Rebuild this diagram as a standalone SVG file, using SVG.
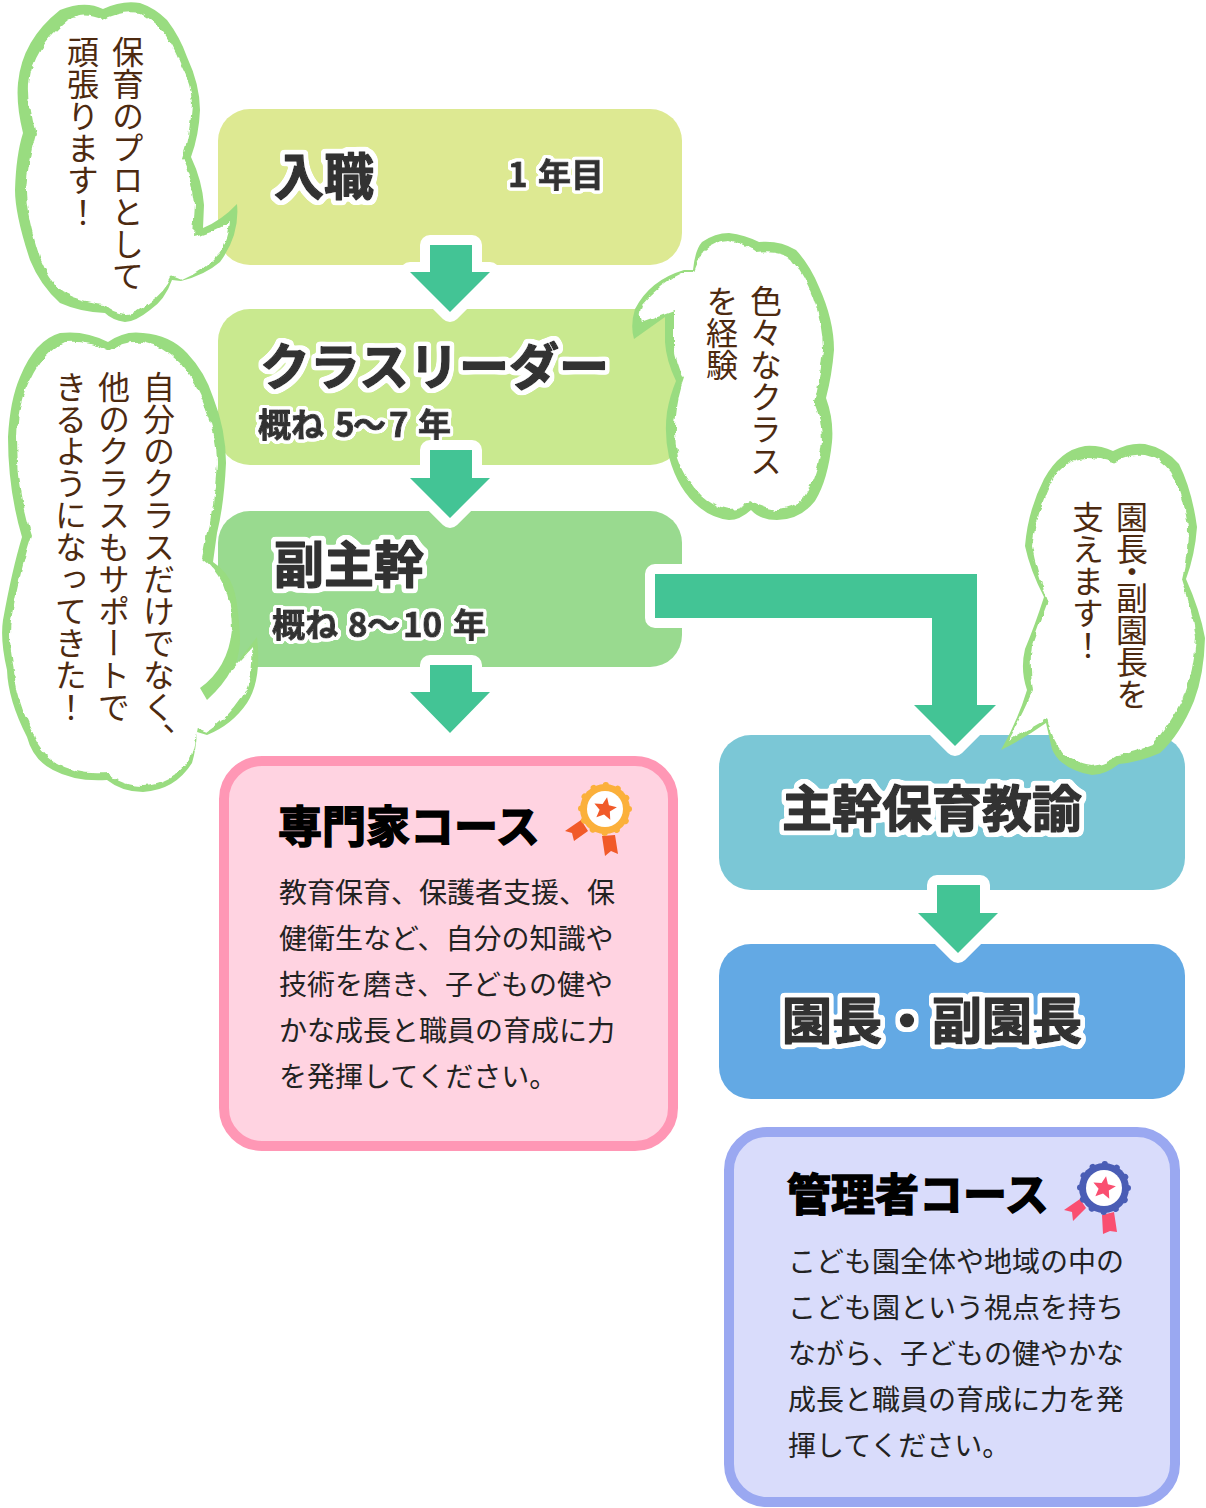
<svg xmlns="http://www.w3.org/2000/svg" width="1206" height="1508" viewBox="0 0 1206 1508">
<style>
text{font-family:"Noto Sans CJK JP","Noto Sans",sans-serif}
.v{writing-mode:vertical-rl;font-size:32px;fill:#4d2a10;font-weight:400}
.t{font-size:50px;font-weight:700;fill:#333;stroke:#333;stroke-width:1.5;stroke-linejoin:round;filter:url(#halo)}
.s{font-size:33px;font-weight:700;fill:#333;stroke:#333;stroke-width:1;stroke-linejoin:round;filter:url(#halos)}
.h{font-size:44px;font-weight:700;fill:#000;stroke:#000;stroke-width:1.6}
.b{font-size:28px;fill:#222}
.bo{fill:#99dc80}.bi{fill:#fff;filter:url(#rough)}
.ar{fill:#43c495;stroke:#fff;stroke-width:20;stroke-linejoin:round;paint-order:stroke}
</style>
<defs>
<filter id="halo" x="-10%" y="-25%" width="120%" height="150%">
<feMorphology in="SourceAlpha" operator="dilate" radius="2.5"/>
<feGaussianBlur stdDeviation="1.5"/>
<feComponentTransfer result="b"><feFuncA type="linear" slope="8" intercept="-0.8"/></feComponentTransfer>
<feFlood flood-color="#fff"/><feComposite in2="b" operator="in" result="w"/>
<feMerge><feMergeNode in="w"/><feMergeNode in="SourceGraphic"/></feMerge>
</filter>
<filter id="halos" x="-10%" y="-25%" width="120%" height="150%">
<feMorphology in="SourceAlpha" operator="dilate" radius="2"/>
<feGaussianBlur stdDeviation="1.2"/>
<feComponentTransfer result="b"><feFuncA type="linear" slope="8" intercept="-0.8"/></feComponentTransfer>
<feFlood flood-color="#fff"/><feComposite in2="b" operator="in" result="w"/>
<feMerge><feMergeNode in="w"/><feMergeNode in="SourceGraphic"/></feMerge>
</filter>
<filter id="rough" x="-5%" y="-5%" width="110%" height="110%">
<feTurbulence type="fractalNoise" baseFrequency="0.09" numOctaves="3" seed="4" result="n"/>
<feDisplacementMap in="SourceGraphic" in2="n" scale="6" xChannelSelector="R" yChannelSelector="G"/>
</filter>
</defs>

<g id="node-entry"><rect x="218" y="109" width="464" height="156" rx="32" fill="#dde992"/>
<text class="t" x="274" y="195">入職</text>
<text class="s" x="508" y="187">1<tspan x="538">年目</tspan></text></g>
<g id="node-leader"><rect x="218" y="309" width="464" height="156" rx="32" fill="#c9e98f"/>
<text class="t" x="260" y="385">クラスリーダー</text>
<text class="s" x="258" y="437">概ね<tspan x="335">5</tspan><tspan x="353">～</tspan><tspan x="389">7</tspan><tspan x="418">年</tspan></text></g>
<g id="node-sub"><rect x="218" y="511" width="464" height="156" rx="32" fill="#99da8f"/>
<text class="t" x="274" y="583">副主幹</text>
<text class="s" x="272" y="637">概ね<tspan x="348">8</tspan><tspan x="367">～</tspan><tspan x="403">10</tspan><tspan x="453">年</tspan></text></g>
<g id="node-chief"><rect x="719" y="735" width="466" height="155" rx="32" fill="#7bc7d6"/>
<text class="t" x="782" y="827">主幹保育教諭</text></g>
<g id="node-head"><rect x="719" y="944" width="466" height="155" rx="32" fill="#63a9e4"/>
<text class="t" x="782" y="1039">園長・副園長</text></g>

<g id="connectors">
<path class="ar" d="M430 245H472V272H490L450 312 410 272H430Z"/>
<path class="ar" d="M430 450H472V478H490L450 518 410 478H430Z"/>
<path class="ar" d="M430 665H472V692H490L450 733 410 692H430Z"/>
<path class="ar" d="M655 574H977V705H996L955 746 914 705H932V618H655Z"/>
<path class="ar" d="M937 885H980V913H998L958 953 918 913H937Z"/>
</g>

<g id="node-pro"><rect x="224" y="761" width="449" height="385" rx="38" fill="#ffd3e1" stroke="#ff97b5" stroke-width="10"/>
<text class="h" x="278" y="843">専門家コース</text>
<g id="badge-pro" transform="translate(605 809)">
<path d="M-17 22-24 11-40 22-33 24-31 32ZM-3 27 10 26 13 45 6 42 0 47Z" fill="#f15a29"/>
<circle r="25" fill="#fbb03b"/><circle r="24" fill="none" stroke="#fbb03b" stroke-width="6" stroke-dasharray="0.1 12.47" stroke-linecap="round"/>
<circle r="18" fill="#fff"/>
<path transform="rotate(10)" d="M0-12 3.200-4.400 11.400-3.700 5.200 1.700 7.050 9.700 0 5.500-7.050 9.700-5.200 1.700-11.400-3.700-3.200-4.400Z" fill="#f15a29"/></g>
<text class="b"><tspan x="279" y="903">教育保育、保護者支援、保</tspan><tspan x="279" y="949">健衛生など、自分の知識や</tspan><tspan x="279" y="995">技術を磨き、子どもの健や</tspan><tspan x="279" y="1041">かな成長と職員の育成に力</tspan><tspan x="279" y="1087">を発揮してください。</tspan></text></g>

<g id="node-mgr"><rect x="729" y="1132" width="446" height="370" rx="38" fill="#d9dcfb" stroke="#9aa8f1" stroke-width="10"/>
<text class="h" x="787" y="1211">管理者コース</text>
<g id="badge-mgr" transform="translate(1104 1188)">
<path d="M-18 20-24 11-40 22-32 24-31 33ZM-2 27 10 24 13 44 6 43-1 46Z" fill="#fa4f70"/>
<circle r="25" fill="#4a5db5"/><circle r="24" fill="none" stroke="#4a5db5" stroke-width="6" stroke-dasharray="0.1 12.47" stroke-linecap="round"/>
<circle r="18" fill="#fff"/>
<path transform="rotate(10)" d="M0-12 3.200-4.400 11.400-3.700 5.200 1.700 7.050 9.700 0 5.500-7.050 9.700-5.200 1.700-11.400-3.700-3.200-4.400Z" fill="#fa4f70"/></g>
<text class="b"><tspan x="788" y="1272">こども園全体や地域の中の</tspan><tspan x="788" y="1318">こども園という視点を持ち</tspan><tspan x="788" y="1364">ながら、子どもの健やかな</tspan><tspan x="788" y="1410">成長と職員の育成に力を発</tspan><tspan x="788" y="1456">揮してください。</tspan></text></g>

<g id="bubble-1">
<path class="bo" d="M103 9Q122 0 140 3Q155 8 167 20Q180 37 187 57Q200 85 200 110Q199 135 191 157Q202 180 204 205L203 228Q222 220 237 204Q240 235 220 262Q205 275 181 281L172 280Q165 300 150 310Q135 322 125 322Q112 320 105 313Q80 312 60 303Q40 285 30 260Q15 215 15 190Q16 155 23 133Q16 105 18 83Q22 40 60 10Q85 0 103 9Z"/>
<path class="bi" d="M103 20Q122 10 140 13Q150 18 163 32Q173 45 180 63Q192 85 192 105Q190 135 182 158Q192 180 195 203L193 237Q215 233 230 222Q228 240 220 253Q205 270 182 280L172 276Q165 292 150 302Q135 315 125 314Q112 312 105 304Q80 302 62 292Q48 278 40 258Q26 215 26 190Q28 160 36 133Q28 105 29 83Q33 48 68 20Q85 11 103 20Z"/>
<text class="v" x="128" y="36">保育のプロとして</text>
<text class="v" x="83" y="36">頑張ります！</text></g>

<g id="bubble-2">
<path class="bo" d="M108 342Q125 330 143 333Q170 335 187 353Q205 372 213 397Q226 430 226 463Q224 505 217 533L213 562Q228 572 233 587Q238 600 240 637Q240 650 236 664L257 637Q262 680 247 703Q232 725 207 735L197 732Q196 750 192 763Q175 790 143 792Q122 792 107 780Q75 782 53 770Q33 760 27 737Q8 700 7 670Q0 640 3 620Q12 570 22 537Q8 490 8 437Q10 400 20 377Q35 340 60 333Q85 330 108 342Z"/>
<path class="bi" d="M108 351Q125 340 143 342Q163 346 180 363Q196 382 205 407Q217 435 217 463Q214 505 208 533L203 558Q216 568 223 583Q232 605 232 630Q232 650 230 672L252 648Q254 680 242 697Q228 718 207 732L197 728Q194 745 190 760Q172 785 143 786Q122 786 107 773Q75 775 57 763Q38 752 33 733Q16 700 14 670Q8 640 11 620Q20 570 32 535Q17 490 17 437Q18 400 30 380Q43 352 65 342Q88 340 108 351Z"/>
<path class="bo" d="M232 630L240 637Q240 670 207 700L200 688Q228 668 232 630Z"/>
<text class="v" x="159" y="371">自分のクラスだけでなく、</text>
<text class="v" x="114" y="371">他のクラスもサポートで</text>
<text class="v" x="71" y="371">きるようになってきた！</text></g>

<g id="bubble-3">
<path class="bo" d="M634 339Q630 325 635 309Q650 280 684 270L693 270Q695 250 702 242Q715 233 729 233Q745 235 759 242Q780 240 796 250Q810 265 819 287Q834 320 834 350Q832 375 826 398Q834 420 832 442Q828 480 815 501Q800 520 777 520Q760 520 751 510Q740 520 729 520Q712 518 699 507Q678 490 669 457Q664 435 667 412Q670 395 676 381Q666 360 665 342L665 317Z"/>
<path class="bi" d="M641 322Q638 315 642 305Q660 283 684 272L693 272Q698 258 704 250Q715 240 729 240Q745 244 757 253Q778 250 792 259Q805 275 813 298Q823 325 823 350Q820 380 814 401Q822 420 822 442Q818 475 804 497Q792 510 776 510Q762 508 751 501Q740 510 729 510Q715 508 702 496Q685 480 678 457Q673 435 676 416Q678 395 684 379Q676 362 674 346L674 310Z"/>
<text class="v" x="766" y="285">色々なクラス</text>
<text class="v" x="722" y="285">を経験</text></g>

<g id="bubble-4">
<path class="bo" d="M1001 750Q1018 720 1027 690Q1020 670 1025 649Q1035 625 1044 597Q1030 570 1025 546Q1028 510 1044 479Q1060 450 1085 446Q1100 445 1113 451Q1130 442 1145 444Q1165 448 1179 464Q1192 490 1197 527Q1195 555 1186 579Q1200 610 1205 638Q1204 675 1194 701Q1180 735 1160 753Q1140 762 1119 764Q1105 775 1092 775Q1072 772 1059 760Q1052 752 1051 745L1046 723Q1025 738 1001 750Z"/>
<path class="bi" d="M1008 741Q1022 715 1033 690Q1029 665 1032 645Q1040 622 1048 601Q1036 570 1032 546Q1038 505 1055 475Q1068 460 1085 458Q1100 458 1113 462Q1130 453 1145 455Q1160 458 1171 472Q1184 495 1188 527Q1188 555 1182 579Q1192 610 1196 638Q1194 670 1184 697Q1170 725 1152 745Q1135 752 1119 755Q1105 765 1092 766Q1076 764 1064 755Q1052 740 1047 718Q1025 730 1008 741Z"/>
<text class="v" x="1132" y="501"><tspan y="501">園長</tspan><tspan y="556">・</tspan><tspan y="582">副園長を</tspan></text>
<text class="v" x="1088" y="501">支えます！</text></g>
</svg>
